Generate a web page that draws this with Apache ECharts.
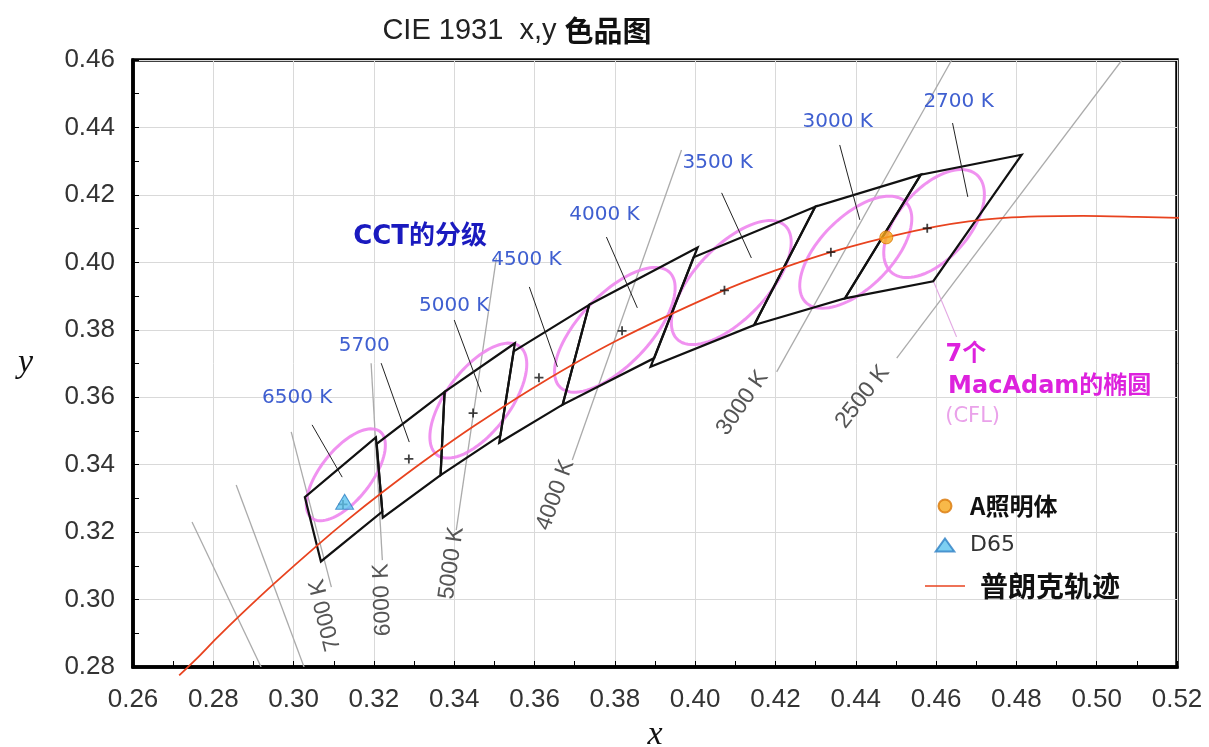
<!DOCTYPE html>
<html><head><meta charset="utf-8">
<script src="https://cdn.jsdelivr.net/npm/echarts@6/dist/echarts.min.js"></script>
<style>html,body{margin:0;padding:0;background:#fff}#c{width:1209px;height:747px}</style>
</head><body><div id="c"></div>
<script>
// ---------- data ----------
const planckLocus = [[0.2715,0.2775],[0.2763,0.2830],[0.2807,0.2884],[0.2869,0.2956],[0.2952,0.3048],
  [0.3064,0.3166],[0.3135,0.3237],[0.3221,0.3318],[0.3324,0.3410],[0.3451,0.3516],[0.3611,0.3638],
  [0.3805,0.3768],[0.4053,0.3907],[0.4200,0.3976],[0.4369,0.4041],[0.4599,0.4106],[0.4770,0.4132],
  [0.4966,0.4138],[0.5100,0.4135],[0.5225,0.4131]];
const illumA = [[0.4476,0.4074]];
const illumD65 = [[0.3127,0.3290]];
const binNames = ['6500 K','5700','5000 K','4500 K','4000 K','3500 K','3000 K','2700 K'];
const binCenters = [[0.3123,0.3282],[0.3287,0.3417],[0.3447,0.3553],[0.3611,0.3658],
  [0.3818,0.3797],[0.4073,0.3917],[0.4338,0.4030],[0.4578,0.4101]];
const binQuads = [
  [0.3205,0.3481,0.3028,0.3304,0.3068,0.3113,0.3221,0.3261],
  [0.3376,0.3616,0.3207,0.3462,0.3222,0.3243,0.3366,0.3369],
  [0.3551,0.3760,0.3376,0.3616,0.3366,0.3369,0.3515,0.3487],
  [0.3736,0.3874,0.3548,0.3736,0.3512,0.3465,0.3670,0.3578],
  [0.4006,0.4044,0.3736,0.3874,0.3670,0.3578,0.3898,0.3716],
  [0.4299,0.4165,0.3996,0.4015,0.3889,0.3690,0.4147,0.3814],
  [0.4562,0.4260,0.4299,0.4165,0.4147,0.3814,0.4373,0.3893],
  [0.4813,0.4319,0.4562,0.4260,0.4373,0.3893,0.4593,0.3944]];
const binLabelAt = [[0.3009,0.3598],[0.3176,0.3752],[0.3400,0.3870],[0.3580,0.4007],
  [0.3774,0.4140],[0.4056,0.4295],[0.4355,0.4416],[0.4656,0.4475]];
const binLeaders = [
  [0.3046,0.3518,0.3121,0.3363],[0.3218,0.3701,0.3288,0.3467],[0.3400,0.3829,0.3467,0.3615],
  [0.3587,0.3927,0.3657,0.3690],[0.3779,0.4075,0.3856,0.3865],[0.4066,0.4206,0.4140,0.4013],
  [0.4360,0.4348,0.4410,0.4126],[0.4641,0.4413,0.4679,0.4194]];
// MacAdam ellipses: centre x, centre y, semi-major, semi-minor, angle (deg)
const macAdam = [
  [0.3130,0.3370,0.01544,0.00666,58.6],
  [0.3460,0.3590,0.01916,0.00833,59.6],
  [0.3800,0.3800,0.02190,0.00941,53.7],
  [0.4090,0.3940,0.02163,0.00966,54.0],
  [0.4400,0.4030,0.01948,0.00956,53.2],
  [0.4595,0.4115,0.01805,0.00936,57.3]];
const macAdamLeader = [[0.4592,0.3948,0.4651,0.3779]];
const isoLines = [
  [0.2747,0.3230,0.2919,0.2800],[0.2857,0.3340,0.3026,0.2800],[0.2994,0.3497,0.3094,0.3037],
  [0.3193,0.3701,0.3221,0.3117],[0.3505,0.4013,0.3405,0.3206],[0.3966,0.4333,0.3694,0.3414],
  [0.4639,0.4600,0.4203,0.3675],[0.5063,0.4600,0.4502,0.3716]];
const isoNames = ['7000 K','6000 K','5000 K','4000 K','3000 K','2500 K'];
const isoLabelAt = [[0.3079,0.2954],[0.3221,0.2999],[0.3393,0.3108],[0.3652,0.3310],[0.4118,0.3583],[0.4417,0.3601]];
const isoLabelAngle = [104,92,82,70,55,52];
const noteTexts = ['CCT的分级','7个','MacAdam的椭圆','(CFL)'];
const noteAt = [[0.3315,0.4075],[0.4674,0.3725],[0.4883,0.3630],[0.4691,0.3544]];
const xTicks = {min:0.26,max:0.52,step:0.02};
const yTicks = {min:0.28,max:0.46,step:0.02};

// ---------- chart ----------
const chart = echarts.init(document.getElementById('c'));
const toPts = (api, arr) => { const p=[]; for (let i=0;i<arr.length;i+=2) p.push(api.coord([arr[i],arr[i+1]])); return p; };
function segSeries(data, color, width, clip, z) {
  return {type:'custom', data, clip, z, silent:true, encode:{x:[0,2], y:[1,3]},
    renderItem:(params, api)=>{
      const a=api.coord([api.value(0),api.value(1)]), b=api.coord([api.value(2),api.value(3)]);
      return {type:'line', shape:{x1:a[0],y1:a[1],x2:b[0],y2:b[1]}, style:{stroke:color, lineWidth:width}};
    }};
}
function textSeries(pos, texts, angles, font, color, z) {
  return {type:'custom', data:pos, clip:false, z, silent:true, encode:{x:0,y:1},
    renderItem:(params, api)=>{
      const p=api.coord([api.value(0),api.value(1)]);
      const ang = angles ? angles[params.dataIndex] : 0;
      return {type:'text', x:p[0], y:p[1], rotation: ang*Math.PI/180,
        style:{text:texts[params.dataIndex], fill:color, font, align:'center', verticalAlign:'middle'}};
    }};
}
const axisCommon = {
  axisLine:{show:true, lineStyle:{color:'#000', width:3.5}},
  axisTick:{show:true, inside:true, length:6, lineStyle:{color:'#000', width:1}},
  minorTick:{show:true, splitNumber:2, length:6, lineStyle:{color:'#000', width:1}},
  splitLine:{show:true, lineStyle:{color:'#d9d9d9', width:1}},
};
chart.setOption({
  animation:false,
  backgroundColor:'#fff',
  title:{left:512, top:11, textAlign:'center',
    text:'{a|CIE 1931  x,y }{b|色品图}',
    textStyle:{fontWeight:'normal', rich:{
      a:{fontFamily:'Liberation Sans', fontSize:29, fontWeight:'normal', color:'#222'},
      b:{fontFamily:'Noto Sans CJK SC', fontSize:29, fontWeight:'bold', color:'#111'}}}},
  grid:{left:133, right:32, top:60, bottom:80, outerBoundsMode:'none', containLabel:false,
    show:true, borderColor:'#000', borderWidth:3.5, backgroundColor:'#fff'},
  xAxis:Object.assign({type:'value', min:xTicks.min, max:xTicks.max, interval:xTicks.step,
    name:'x', nameLocation:'middle', nameGap:44,
    nameTextStyle:{fontFamily:'Liberation Serif', fontStyle:'italic', fontSize:34, color:'#111'},
    axisLabel:{margin:20, fontFamily:'Liberation Sans', fontSize:26, color:'#333', formatter:v=>v.toFixed(2)}}, axisCommon),
  yAxis:Object.assign({type:'value', min:yTicks.min, max:yTicks.max, interval:yTicks.step,
    name:'y', nameLocation:'middle', nameRotate:0, nameGap:100,
    nameTextStyle:{fontFamily:'Liberation Serif', fontStyle:'italic', fontSize:34, color:'#111'},
    axisLabel:{margin:18, fontFamily:'Liberation Sans', fontSize:26, color:'#333', formatter:v=>v.toFixed(2)}}, axisCommon),
  legend:{orient:'vertical', left:920, top:489, itemWidth:40, itemHeight:13, itemGap:16, selectedMode:false,
    data:[
      {name:'A照明体', icon:'circle', textStyle:{fontFamily:'Noto Sans CJK SC', fontSize:24, fontWeight:'bold', color:'#111'}},
      {name:'D65', icon:'path://M10,0L20,14L0,14Z', textStyle:{fontFamily:'DejaVu Sans', fontSize:22, color:'#333'}},
      {name:'普朗克轨迹', icon:'path://M0,0h40v1.6h-40z', textStyle:{fontFamily:'Noto Sans CJK SC', fontSize:28, fontWeight:'bold', color:'#111', padding:[0,0,0,10]}}]},
  series:[
    segSeries(isoLines, '#ababab', 1.3, true, 1),
    {type:'custom', data:macAdam, clip:false, z:2, silent:true, encode:{x:0,y:1},
      renderItem:(params, api)=>{
        const cx=api.value(0), cy=api.value(1), a=api.value(2), b=api.value(3), th=api.value(4)*Math.PI/180;
        const pts=[];
        for (let k=0;k<=90;k++){ const t=k/90*2*Math.PI, ex=a*Math.cos(t), ey=b*Math.sin(t);
          pts.push(api.coord([cx+ex*Math.cos(th)-ey*Math.sin(th), cy+ex*Math.sin(th)+ey*Math.cos(th)])); }
        return {type:'polygon', shape:{points:pts}, style:{fill:'none', stroke:'#ee86ee', lineWidth:3, opacity:0.9}};
      }},
    segSeries(macAdamLeader, '#e3a8e3', 1.2, false, 2),
    {type:'custom', data:binQuads, clip:false, z:3, silent:true, encode:{x:[0,2,4,6], y:[1,3,5,7]},
      renderItem:(params, api)=>{
        const arr=[]; for (let i=0;i<8;i++) arr.push(api.value(i));
        return {type:'polygon', shape:{points:toPts(api, arr)}, style:{fill:'none', stroke:'#111', lineWidth:2.2}};
      }},
    segSeries(binLeaders, '#222', 1, false, 3),
    {name:'普朗克轨迹', type:'line', data:planckLocus, smooth:0.3, showSymbol:false, symbol:'none', clip:false, z:4,
      lineStyle:{color:'#e8431f', width:1.8}, itemStyle:{color:'#e8431f'}},
    {type:'scatter', data:binCenters, symbol:'path://M4,0h2v10h-2zM0,4h10v2h-10z', symbolSize:9, z:5,
      itemStyle:{color:'#111'}, silent:true},
    {name:'D65', type:'scatter', data:illumD65, symbol:'triangle', symbolSize:[18,15], z:6,
      itemStyle:{color:'#5cc3ef', borderColor:'#2d7fc4', borderWidth:1}},
    {name:'A照明体', type:'scatter', data:illumA, symbol:'circle', symbolSize:13, z:6,
      itemStyle:{color:'#f6a81c', borderColor:'#d9780a', borderWidth:1}},
    textSeries(binLabelAt, binNames, null, '20px "DejaVu Sans"', '#3f5fd0', 7),
    textSeries(isoLabelAt, isoNames, isoLabelAngle, '23px "Liberation Sans"', '#555', 7),
    textSeries([noteAt[0]], [noteTexts[0]], null, 'bold 26px "DejaVu Sans", "Noto Sans CJK SC"', '#1a1abf', 7),
    textSeries([noteAt[1], noteAt[2]], [noteTexts[1], noteTexts[2]], null, 'bold 24px "DejaVu Sans", "Noto Sans CJK SC"', '#dd22dd', 7),
    textSeries([noteAt[3]], [noteTexts[3]], null, '21px "DejaVu Sans"', '#eaa2ea', 7)
  ]
});
</script></body></html>
